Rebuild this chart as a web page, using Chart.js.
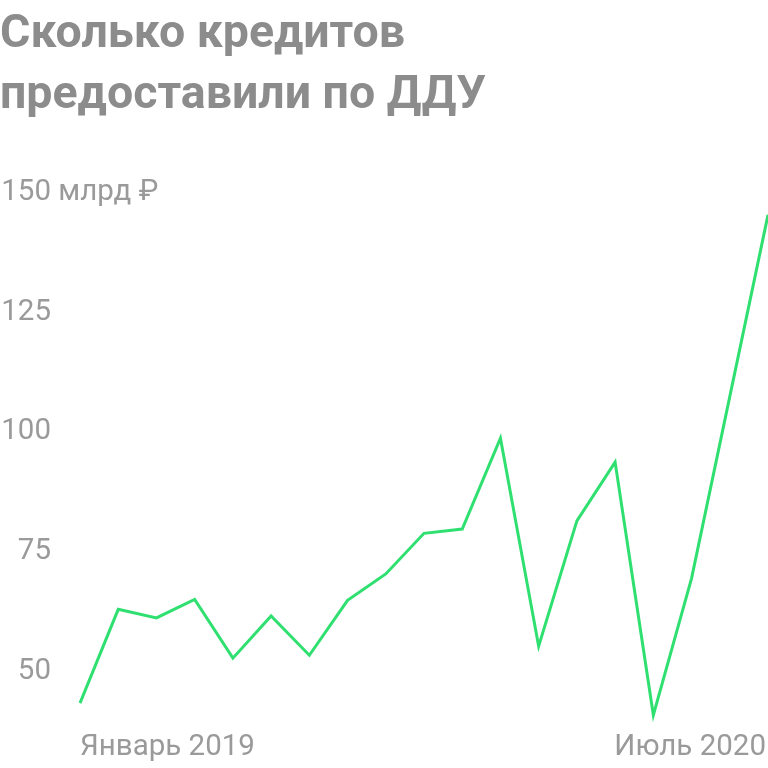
<!DOCTYPE html>
<html>
<head>
<meta charset="utf-8">
<script src="https://cdn.jsdelivr.net/npm/chart.js@4"></script>
<style>
  html, body { margin: 0; padding: 0; background: #fff; }
  #wrap { width: 768px; height: 768px; position: relative; }
</style>
</head>
<body>
<div id="wrap"><canvas id="graficaDdu"></canvas></div>
<script>
// Месяцы с января 2019 по июль 2020
const meses = ["Январь 2019", "Фев 2019", "Мар 2019", "Апр 2019", "Май 2019", "Июн 2019",
  "Июл 2019", "Авг 2019", "Сен 2019", "Окт 2019", "Ноя 2019", "Дек 2019",
  "Январь 2020", "Фев 2020", "Мар 2020", "Апр 2020", "Май 2020", "Июн 2020", "Июль 2020"];
const creditos = [42.7, 62.3, 60.5, 64.4, 52.1, 60.9, 52.7, 64.2, 69.7, 78.2, 79.1, 98.1,
  54.6, 80.8, 93.1, 40.2, 68.8, 106.8, 144.8];
const ticksY = [150, 125, 100, 75, 50];
const etiquetasX = ["Январь 2019", "Июль 2020"];
const titulo = ["Сколько кредитов", "предоставили по ДДУ"];

const textoPlugin = {
  id: 'textoPlugin',
  afterDraw(chart) {
    const ctx = chart.ctx;
    const y = chart.scales.y;
    const area = chart.chartArea;
    ctx.save();
    // titulo
    ctx.fillStyle = '#8c8c8c';
    ctx.font = 'bold 46.5px Roboto, "Noto Sans", sans-serif';
    ctx.textAlign = 'left';
    ctx.textBaseline = 'alphabetic';
    ctx.fillText(titulo[0], 0, 47);
    ctx.fillText(titulo[1], 0, 108);
    // ticks eje y
    ctx.fillStyle = '#9a9a9a';
    ctx.font = '29.5px Roboto, "Noto Sans", sans-serif';
    ctx.textBaseline = 'middle';
    ticksY.forEach((v, i) => {
      const py = y.getPixelForValue(v) + 3;
      ctx.textAlign = 'right';
      ctx.fillText(String(v), 51, py);
      if (i === 0) {
        ctx.textAlign = 'left';
        ctx.fillText(' млрд ₽', 51, py);
      }
    });
    // etiquetas eje x
    ctx.textAlign = 'left';
    ctx.fillText(etiquetasX[0], area.left, 748);
    ctx.textAlign = 'right';
    ctx.fillText(etiquetasX[1], area.right - 2, 748);
    ctx.restore();
  }
};

const grafica = document.getElementById('graficaDdu').getContext('2d');
new Chart(grafica, {
  type: 'line',
  data: {
    labels: meses,
    datasets: [{
      data: creditos,
      borderColor: '#2fe070',
      borderWidth: 3,
      pointRadius: 0,
      tension: 0,
      clip: false,
      fill: false
    }]
  },
  options: {
    responsive: true,
    maintainAspectRatio: false,
    animation: false,
    layout: { padding: { left: 80, right: 0, top: 190, bottom: 52 } },
    plugins: {
      legend: { display: false },
      tooltip: { enabled: false }
    },
    scales: {
      x: { display: false, offset: false },
      y: { display: false, min: 40, max: 150 }
    }
  },
  plugins: [textoPlugin]
});
</script>
</body>
</html>
